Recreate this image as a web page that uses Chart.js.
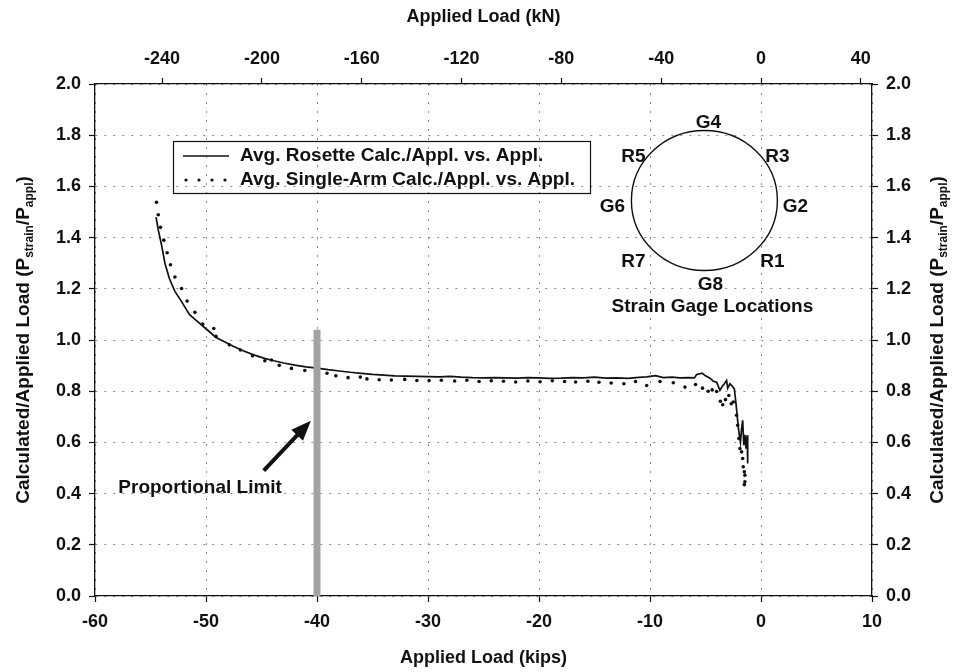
<!DOCTYPE html>
<html>
<head>
<meta charset="utf-8">
<script src="https://cdn.jsdelivr.net/npm/chart.js@4.4.1/dist/chart.umd.min.js"></script>
<style>
  html, body { margin: 0; padding: 0; background: #fff; }
  canvas { display: block; }
</style>
</head>
<body>
<canvas id="graficoCarga" width="957" height="672"></canvas>
<script>
const FONTE = "'Liberation Sans', Arial, sans-serif";
const KN_POR_KIP = 4.448;

// eixos
const kipsTicks = [-60, -50, -40, -30, -20, -10, 0, 10];
const knTicks = [-240, -200, -160, -120, -80, -40, 0, 40];
const ratioTicks = [0, 0.2, 0.4, 0.6, 0.8, 1.0, 1.2, 1.4, 1.6, 1.8, 2.0];

// Avg. Rosette (linha cheia)
const rosetteLoad = [-54.5, -54.3, -54.0, -53.7, -53.3, -52.8, -52.2, -51.5, -50.7, -49.9, -49.1,
  -48.2, -47.5, -46.6, -45.7, -44.8, -43.9, -43.0,
  -42, -41, -40, -39, -38, -37, -36, -35, -34, -33, -32, -31, -30, -29, -28, -27, -26, -25,
  -24, -23, -22, -21, -20, -19, -18, -17, -16, -15, -14, -13, -12, -11,
  -10.3, -9.5, -8.8, -8.0, -7.3, -6.5, -6.0, -5.8, -5.5, -5.3, -5.0,
  -4.6, -4.3, -4.0, -3.7, -3.5, -3.3, -3.1, -3.0, -2.8, -2.6, -2.4,
  -2.25, -2.15, -2.05, -1.95, -1.85, -1.75, -1.65, -1.55, -1.45, -1.35, -1.25, -1.2];
const rosetteRatio = [1.48, 1.43, 1.37, 1.30, 1.24, 1.19, 1.15, 1.10, 1.07, 1.04, 1.01,
  0.99, 0.975, 0.957, 0.942, 0.929, 0.919, 0.910,
  0.902, 0.895, 0.890, 0.884, 0.879, 0.874, 0.870, 0.866, 0.863, 0.860, 0.859, 0.858, 0.857, 0.856, 0.858, 0.855, 0.853, 0.852,
  0.853, 0.852, 0.851, 0.853, 0.852, 0.850, 0.851, 0.853, 0.852, 0.855, 0.851, 0.852, 0.850, 0.854,
  0.856, 0.861, 0.853, 0.855, 0.852, 0.853, 0.852, 0.865, 0.868, 0.870, 0.860,
  0.851, 0.839, 0.835, 0.803, 0.818, 0.829, 0.842, 0.812, 0.829, 0.820, 0.809,
  0.75, 0.706, 0.66, 0.628, 0.60, 0.654, 0.686, 0.589, 0.63, 0.575, 0.628, 0.518];

// Avg. Single-Arm (pontos)
const singleArmLoad = [-54.46, -54.3, -54.1, -53.8, -53.5, -53.2, -52.8, -52.2, -51.7, -51.0, -50.3, -49.3, -49.1,
  -47.9, -46.9, -45.8, -44.7, -44.1, -43.4, -42.3, -41.1, -39.1, -38.3, -37.2, -36.1, -35.5, -34.4, -33.3,
  -32.1, -31.0, -29.9, -28.8, -27.6, -26.5, -25.4, -24.3, -23.2, -22.1, -21.0, -19.9, -18.8, -17.7, -16.7,
  -15.6, -14.6, -13.5, -12.35, -11.3, -10.3, -9.1, -7.9, -6.85, -5.9, -5.27, -4.76, -4.4, -4.0, -3.66,
  -3.45, -3.2, -2.9, -2.68, -2.5, -2.2, -2.1, -2.0, -1.9, -1.75, -1.65, -1.6, -1.5, -1.45, -1.45, -1.5];
const singleArmRatio = [1.538, 1.489, 1.44, 1.39, 1.341, 1.294, 1.246, 1.201, 1.152, 1.108, 1.062, 1.045, 1.014,
  0.981, 0.961, 0.938, 0.919, 0.922, 0.901, 0.889, 0.881, 0.870, 0.860, 0.853, 0.855, 0.848, 0.845, 0.844,
  0.846, 0.842, 0.842, 0.843, 0.840, 0.843, 0.838, 0.841, 0.839, 0.836, 0.840, 0.837, 0.841, 0.838, 0.836,
  0.839, 0.835, 0.832, 0.829, 0.838, 0.822, 0.838, 0.833, 0.816, 0.826, 0.812, 0.800, 0.805, 0.799, 0.761,
  0.747, 0.767, 0.783, 0.751, 0.758, 0.706, 0.667, 0.615, 0.576, 0.563, 0.537, 0.505, 0.485, 0.472, 0.446, 0.435];

// limite de proporcionalidade
const propLimitLoad = -40;
const propLimitRatio = [0, 1.04];

const legendLabels = ['Avg. Rosette Calc./Appl. vs. Appl.', 'Avg. Single-Arm Calc./Appl. vs. Appl.'];
const gageLabels = ['G4', 'R3', 'G2', 'R1', 'G8', 'R7', 'G6', 'R5'];

const fonteEixo = { family: FONTE, size: 18, weight: 'bold' };
const fonteTexto = `bold 19px ${FONTE}`;
const grade = { color: '#8a8a8a', lineWidth: 1, tickLength: 6, tickColor: '#111', tickWidth: 1.2 };
const borda = { color: '#111', width: 1.3, dash: [2, 7] };

function desenhaTituloY(ctx, cx, cy) {
    const partes = [['Calculated/Applied Load (P', false], ['strain', true], ['/P', false], ['appl', true], [')', false]];
    ctx.save();
    ctx.translate(cx, cy);
    ctx.rotate(-Math.PI / 2);
    let total = 0;
    partes.forEach(([t, sub]) => {
        ctx.font = sub ? `bold 12px ${FONTE}` : fonteTexto;
        total += ctx.measureText(t).width;
    });
    let px = -total / 2;
    ctx.textBaseline = 'alphabetic';
    ctx.textAlign = 'left';
    partes.forEach(([t, sub]) => {
        ctx.font = sub ? `bold 12px ${FONTE}` : fonteTexto;
        ctx.fillText(t, px, sub ? 11 : 7);
        px += ctx.measureText(t).width;
    });
    ctx.restore();
}

const anotacoes = {
    id: 'anotacoes',
    afterDraw(chart) {
        const { ctx, chartArea: a, scales: { x, y } } = chart;
        ctx.save();
        ctx.fillStyle = '#111';
        ctx.strokeStyle = '#111';

        // legenda
        const lx = a.left + 78, ly = a.top + 57;
        ctx.lineWidth = 1.2;
        ctx.strokeRect(lx + 0.5, ly + 0.5, 417, 52);
        ctx.lineWidth = 1.6;
        ctx.beginPath();
        ctx.moveTo(lx + 10, ly + 15);
        ctx.lineTo(lx + 56, ly + 15);
        ctx.stroke();
        for (let k = 0; k < 4; k++) {
            ctx.beginPath();
            ctx.arc(lx + 13 + k * 13, ly + 39, 1.6, 0, 2 * Math.PI);
            ctx.fill();
        }
        ctx.font = fonteTexto;
        ctx.textBaseline = 'middle';
        ctx.textAlign = 'left';
        ctx.fillText(legendLabels[0], lx + 67, ly + 15);
        ctx.fillText(legendLabels[1], lx + 67, ly + 39);

        // circulo dos extensometros
        const cx = x.getPixelForValue(-5.1), cy = y.getPixelForValue(1.545);
        ctx.lineWidth = 1.4;
        ctx.beginPath();
        ctx.ellipse(cx, cy, 73, 70, 0, 0, 2 * Math.PI);
        ctx.stroke();
        const offsets = [[4, -78], [73, -44], [91, 6], [68, 61], [6, 84], [-71, 61], [-92, 6], [-71, -44]];
        ctx.textAlign = 'center';
        gageLabels.forEach((g, i) => ctx.fillText(g, cx + offsets[i][0], cy + offsets[i][1]));
        ctx.fillText('Strain Gage Locations', cx + 8, cy + 106);

        // seta + texto
        const x0 = x.getPixelForValue(-44.8), y0 = y.getPixelForValue(0.49);
        const x1 = x.getPixelForValue(-40.55), y1 = y.getPixelForValue(0.685);
        const ang = Math.atan2(y1 - y0, x1 - x0);
        ctx.lineWidth = 4;
        ctx.beginPath();
        ctx.moveTo(x0, y0);
        ctx.lineTo(x1 - 14 * Math.cos(ang), y1 - 14 * Math.sin(ang));
        ctx.stroke();
        ctx.beginPath();
        ctx.moveTo(x1, y1);
        ctx.lineTo(x1 - 20 * Math.cos(ang) + 8 * Math.sin(ang), y1 - 20 * Math.sin(ang) - 8 * Math.cos(ang));
        ctx.lineTo(x1 - 20 * Math.cos(ang) - 8 * Math.sin(ang), y1 - 20 * Math.sin(ang) + 8 * Math.cos(ang));
        ctx.closePath();
        ctx.fill();
        ctx.textAlign = 'left';
        ctx.fillText('Proportional Limit', x.getPixelForValue(-57.9), y.getPixelForValue(0.422));

        // titulos verticais
        desenhaTituloY(ctx, 22, (a.top + a.bottom) / 2);
        desenhaTituloY(ctx, 936, (a.top + a.bottom) / 2);
        ctx.restore();
    }
};

new Chart(document.getElementById('graficoCarga'), {
    type: 'line',
    data: {
        datasets: [{
            label: 'Proportional Limit',
            data: propLimitRatio.map(r => ({ x: propLimitLoad, y: r })),
            borderColor: '#a2a2a2',
            borderWidth: 7,
            borderCapStyle: 'butt',
            pointRadius: 0,
            order: 0
        }, {
            label: legendLabels[0],
            data: rosetteLoad.map((v, i) => ({ x: v, y: rosetteRatio[i] })),
            borderColor: '#111',
            borderWidth: 1.7,
            pointRadius: 0,
            tension: 0,
            order: 1
        }, {
            label: legendLabels[1],
            data: singleArmLoad.map((v, i) => ({ x: v, y: singleArmRatio[i] })),
            showLine: false,
            pointRadius: 1.8,
            pointBorderWidth: 0,
            pointBackgroundColor: '#111',
            order: 2
        }]
    },
    options: {
        responsive: false,
        animation: false,
        devicePixelRatio: 1,
        layout: { padding: 0 },
        plugins: { legend: { display: false }, tooltip: { enabled: false } },
        scales: {
            x: {
                type: 'linear', position: 'bottom',
                min: kipsTicks[0], max: kipsTicks[kipsTicks.length - 1],
                afterBuildTicks: s => { s.ticks = kipsTicks.map(v => ({ value: v })); },
                afterFit: s => { s.height = 76; },
                grid: grade, border: borda,
                ticks: { color: '#111', font: fonteEixo, padding: 9, maxRotation: 0, callback: v => String(v) },
                title: { display: true, text: 'Applied Load (kips)', color: '#111', font: fonteEixo, padding: { top: 0, bottom: 3 } }
            },
            x2: {
                type: 'linear', position: 'top',
                min: kipsTicks[0] * KN_POR_KIP, max: kipsTicks[kipsTicks.length - 1] * KN_POR_KIP,
                afterBuildTicks: s => { s.ticks = knTicks.map(v => ({ value: v })); },
                afterFit: s => { s.height = 84; },
                grid: { ...grade, drawOnChartArea: false }, border: borda,
                ticks: { color: '#111', font: fonteEixo, padding: 8, maxRotation: 0, callback: v => String(v) },
                title: { display: true, text: 'Applied Load (kN)', color: '#111', font: fonteEixo, padding: { top: 6, bottom: 0 } }
            },
            y: {
                type: 'linear', position: 'left', min: 0, max: 2,
                afterBuildTicks: s => { s.ticks = ratioTicks.map(v => ({ value: v })); },
                afterFit: s => { s.width = 95; },
                grid: grade, border: borda,
                ticks: { color: '#111', font: fonteEixo, padding: 8, callback: v => v.toFixed(1) }
            },
            y2: {
                type: 'linear', position: 'right', min: 0, max: 2,
                afterBuildTicks: s => { s.ticks = ratioTicks.map(v => ({ value: v })); },
                afterFit: s => { s.width = 85; },
                grid: { ...grade, drawOnChartArea: false }, border: borda,
                ticks: { color: '#111', font: fonteEixo, padding: 8, callback: v => v.toFixed(1) }
            }
        }
    },
    plugins: [anotacoes]
});
</script>
</body>
</html>
